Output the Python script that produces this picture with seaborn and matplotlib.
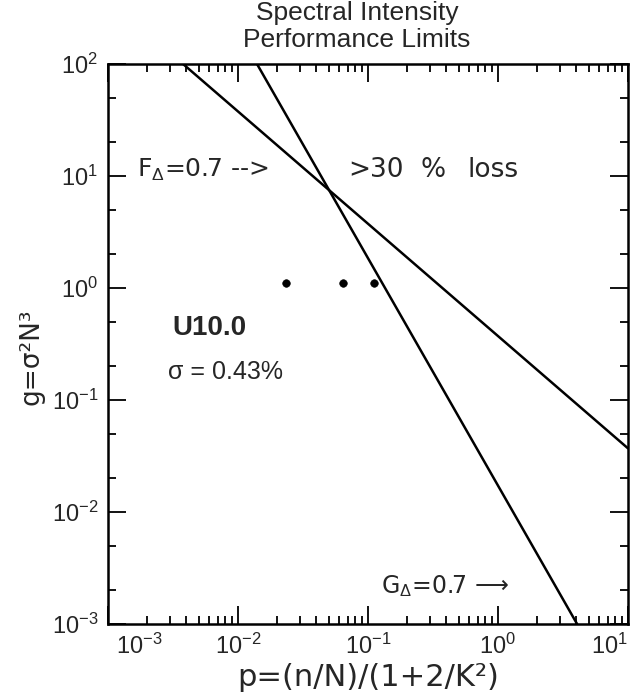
import matplotlib
matplotlib.use("Agg")
import matplotlib.pyplot as plt
import matplotlib.ticker as mticker
import matplotlib.transforms as mtransforms
import numpy as np
import pandas as pd
import seaborn as sns

# ---- data ----
f_p = [3.78e-3, 10.0]          # F_Delta = 0.7 limit line (x)
f_g = [100.0, 0.037]           # (y)
g_p = [1.40e-2, 4.06]          # G_Delta = 0.7 limit line (x)
g_g = [100.0, 1.0e-3]          # (y)
pts_p = [0.0234, 0.0643, 0.111]  # U10.0 measured points
pts_g = [1.11, 1.11, 1.11]

x_ticks = [1e-3, 1e-2, 1e-1, 1e0, 1e1]
x_tick_labels = [r"$10^{-3}$", r"$10^{-2}$", r"$10^{-1}$", r"$10^{0}$", r"$10^{1}$"]
y_ticks = [1e-3, 1e-2, 1e-1, 1e0, 1e1, 1e2]
y_tick_labels = [r"$10^{-3}$", r"$10^{-2}$", r"$10^{-1}$", r"$10^{0}$", r"$10^{1}$", r"$10^{2}$"]

title_lines = ["Spectral Intensity", "Performance Limits"]
xlim = (1e-3, 10.0)
ylim = (1e-3, 100.0)

sns.set_theme(style="ticks")
plt.rcParams["font.family"] = ["Liberation Sans", "DejaVu Sans"]
plt.rcParams["mathtext.fontset"] = "custom"
plt.rcParams["mathtext.rm"] = "Liberation Sans"
plt.rcParams["mathtext.it"] = "Liberation Sans"
plt.rcParams["mathtext.bf"] = "Liberation Sans:bold"

fig = plt.figure(figsize=(6.32, 6.95), dpi=100)
ax = fig.add_axes([108 / 632, 1 - 624 / 695, 520 / 632, 560 / 695])
ax.set_xscale("log")
ax.set_yscale("log")

df_f = pd.DataFrame({"p": f_p, "g": f_g})
df_g = pd.DataFrame({"p": g_p, "g": g_g})
df_pts = pd.DataFrame({"p": pts_p, "g": pts_g})

sns.lineplot(data=df_f, x="p", y="g", ax=ax, color="black", lw=1.8,
             sort=False, estimator=None)
sns.lineplot(data=df_g, x="p", y="g", ax=ax, color="black", lw=1.8,
             sort=False, estimator=None)
sns.scatterplot(data=df_pts, x="p", y="g", ax=ax, color="black", s=30,
                edgecolor="black", zorder=5)

for s in ax.spines.values():
    s.set_visible(True)
    s.set_linewidth(1.8)
    s.set_color("black")

ax.set_xticks(x_ticks, labels=x_tick_labels)
ax.set_yticks(y_ticks, labels=y_tick_labels)
ax.xaxis.set_minor_locator(mticker.LogLocator(base=10, subs=np.arange(2, 10), numticks=20))
ax.yaxis.set_minor_locator(mticker.LogLocator(base=10, subs=[2.0, 5.0], numticks=20))
ax.xaxis.set_minor_formatter(mticker.NullFormatter())
ax.yaxis.set_minor_formatter(mticker.NullFormatter())
ax.set_xlim(*xlim)
ax.set_ylim(*ylim)

ax.tick_params(which="both", direction="in", top=True, right=True,
               color="black", width=1.3)
ax.tick_params(which="major", length=13, labelsize=17, pad=7)
ax.tick_params(which="minor", length=6)

xl = ax.get_xticklabels()
xl[0].set_ha("left")
xl[0].set_transform(xl[0].get_transform() +
                    mtransforms.ScaledTranslation(8 / 100, 0, fig.dpi_scale_trans))
xl[-1].set_ha("right")

ax.set_xlabel("p=(n/N)/(1+2/K²)", family="DejaVu Sans", fontsize=22, va="center")
ax.xaxis.set_label_coords(0.5, -(678 - 624) / 560)
ax.set_ylabel("g=σ²N³", family="DejaVu Sans", fontsize=19, va="center")
ax.yaxis.set_label_coords(-(108 - 31) / 520, 1 - (357 - 64) / 560)

fig.text(0.565, 0.998, "\n".join(title_lines), ha="center", va="top",
         fontsize=19, linespacing=1.12)

ax.text(1.67e-3, 11.3, r"F$_\Delta$=0.7 -->", family="DejaVu Sans",
        fontsize=18, va="center", ha="left")
ax.text(0.0702, 11.3, ">30", family="DejaVu Sans",
        fontsize=19, va="center", ha="left")
ax.text(0.255, 11.3, "%", family="DejaVu Sans",
        fontsize=19, va="center", ha="left")
ax.text(0.58, 11.3, "loss", family="DejaVu Sans",
        fontsize=19, va="center", ha="left")
ax.text(0.126, 2.2e-3, "G$_\\Delta$=0.7 \u27f6", family="DejaVu Sans",
        fontsize=17, va="center", ha="left")
ax.text(3.1e-3, 0.44, "U10.0", fontsize=20, fontweight="bold",
        va="center", ha="left")
ax.text(2.9e-3, 0.178, "σ = 0.43%", fontsize=18, va="center", ha="left")

fig.savefig("out.png", dpi=100)
